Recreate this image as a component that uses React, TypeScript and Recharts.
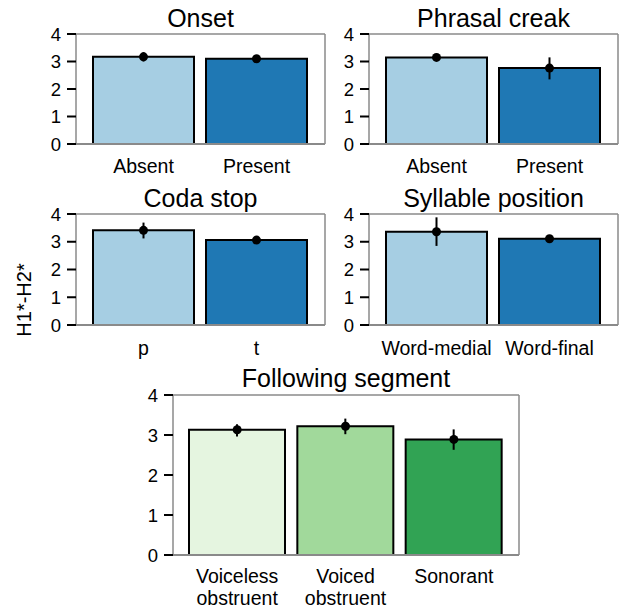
import { Bar, CartesianGrid, Cell, ComposedChart, ErrorBar, Line, XAxis, YAxis } from 'recharts'

// values (means and 95% CI bounds)
const onsetCats = ['Absent', 'Present']
const onsetMean = [3.17, 3.1]
const onsetLo = [3.0, 3.03]
const onsetHi = [3.34, 3.17]

const creakCats = ['Absent', 'Present']
const creakMean = [3.15, 2.76]
const creakLo = [3.09, 2.35]
const creakHi = [3.21, 3.15]

const codaCats = ['p', 't']
const codaMean = [3.41, 3.06]
const codaLo = [3.12, 3.0]
const codaHi = [3.69, 3.12]

const syllCats = ['Word-medial', 'Word-final']
const syllMean = [3.36, 3.11]
const syllLo = [2.85, 3.05]
const syllHi = [3.88, 3.17]

const followCats = ['Voiceless\nobstruent', 'Voiced\nobstruent', 'Sonorant']
const followMean = [3.13, 3.22, 2.89]
const followLo = [2.96, 3.02, 2.63]
const followHi = [3.27, 3.41, 3.14]

const yTicks = [0, 1, 2, 3, 4]
const blues = ['#a6cee3', '#1f78b4']
const greens = ['#e5f5e0', '#a1d99b', '#31a354']

const FONT = '"Liberation Sans", Arial, Helvetica, sans-serif'
const SPINE = '#8a8a8a'

const buildRows = (cats: string[], mean: number[], lo: number[], hi: number[]) =>
  cats.map((cat, i) => ({
    cat,
    mean: mean[i],
    err: [mean[i] - lo[i], hi[i] - mean[i]],
  }))

type TickProps = { x?: number; y?: number; payload?: { value: string | number } }

function CatTick({ x = 0, y = 0, payload }: TickProps) {
  const lines = String(payload?.value ?? '').split('\n')
  return (
    <text x={x} y={y} textAnchor="middle" fontSize={19.5} fill="#000" fontFamily={FONT}>
      {lines.map((line, i) => (
        <tspan key={i} x={x} dy={i === 0 ? '0.71em' : 22}>
          {line}
        </tspan>
      ))}
    </text>
  )
}

function ValueTick({ x = 0, y = 0, payload }: TickProps) {
  return (
    <text x={x} y={y} dy="0.36em" textAnchor="end" fontSize={18.5} fill="#000" fontFamily={FONT}>
      {payload?.value}
    </text>
  )
}

type PanelProps = {
  rows: { cat: string; mean: number; err: number[] }[]
  colors: string[]
  left: number
  top: number
  width: number
  height: number
  xAxisHeight: number
  pad: number
  tickMargin: number
}

function Panel({ rows, colors, left, top, width, height, xAxisHeight, pad, tickMargin }: PanelProps) {
  return (
    <div style={{ position: 'absolute', left, top }}>
      <ComposedChart
        width={width}
        height={height}
        data={rows}
        margin={{ top: 34, right: 5, bottom: 0, left: 0 }}
        barCategoryGap={6}
      >
        {/* top and right spines of the box */}
        <CartesianGrid
          stroke={SPINE}
          strokeWidth={1.5}
          horizontalCoordinatesGenerator={({ offset }: any) => [offset.top]}
          verticalCoordinatesGenerator={({ offset }: any) => [offset.left + offset.width]}
        />
        <XAxis
          dataKey="cat"
          height={xAxisHeight}
          padding={{ left: pad, right: pad + 1 }}
          tickLine={false}
          tickSize={0}
          tickMargin={tickMargin}
          axisLine={{ stroke: SPINE, strokeWidth: 2 }}
          tick={<CatTick />}
          interval={0}
        />
        <YAxis
          width={76}
          domain={[0, 4]}
          ticks={yTicks}
          interval={0}
          tickSize={9}
          tickMargin={6}
          tickLine={{ stroke: '#000', strokeWidth: 2 }}
          axisLine={{ stroke: SPINE, strokeWidth: 1.5 }}
          tick={<ValueTick />}
        />
        <Bar dataKey="mean" stroke="#000" strokeWidth={2} isAnimationActive={false}>
          {rows.map((r, i) => (
            <Cell key={r.cat} fill={colors[i]} />
          ))}
          <ErrorBar dataKey="err" width={0} stroke="#000" strokeWidth={2} direction="y" />
        </Bar>
        <Line
          dataKey="mean"
          stroke="none"
          dot={{ r: 4.5, fill: '#000', stroke: 'none' }}
          activeDot={false}
          isAnimationActive={false}
        />
      </ComposedChart>
    </div>
  )
}

const titles = [
  { text: 'Onset', x: 200.5, y: 27 },
  { text: 'Phrasal creak', x: 493.5, y: 27 },
  { text: 'Coda stop', x: 200.5, y: 207 },
  { text: 'Syllable position', x: 493.5, y: 207 },
  { text: 'Following segment', x: 346, y: 387 },
]

export default function App() {
  return (
    <div
      style={{
        position: 'absolute',
        left: 0,
        top: 0,
        width: 625,
        height: 610,
        background: '#fff',
        fontFamily: FONT,
      }}
    >
      <Panel rows={buildRows(onsetCats, onsetMean, onsetLo, onsetHi)} colors={blues}
        left={0} top={0} width={330} height={180} xAxisHeight={36} pad={11} tickMargin={15} />
      <Panel rows={buildRows(creakCats, creakMean, creakLo, creakHi)} colors={blues}
        left={293} top={0} width={330} height={180} xAxisHeight={36} pad={11} tickMargin={15} />
      <Panel rows={buildRows(codaCats, codaMean, codaLo, codaHi)} colors={blues}
        left={0} top={180} width={330} height={180} xAxisHeight={35} pad={11} tickMargin={16} />
      <Panel rows={buildRows(syllCats, syllMean, syllLo, syllHi)} colors={blues}
        left={293} top={180} width={330} height={180} xAxisHeight={35} pad={11} tickMargin={16} />
      <Panel rows={buildRows(followCats, followMean, followLo, followHi)} colors={greens}
        left={97} top={361} width={427} height={249} xAxisHeight={55} pad={10} tickMargin={14} />

      <svg width={625} height={610} style={{ position: 'absolute', left: 0, top: 0, pointerEvents: 'none' }}>
        {titles.map((t) => (
          <text key={t.text} x={t.x} y={t.y} textAnchor="middle" fontSize={25} fill="#000" fontFamily={FONT}>
            {t.text}
          </text>
        ))}
        <text
          x={0}
          y={0}
          transform="translate(31 300) rotate(-90)"
          textAnchor="middle"
          fontSize={20}
          fill="#000"
          fontFamily={FONT}
        >
          H1*-H2*
        </text>
      </svg>
    </div>
  )
}
